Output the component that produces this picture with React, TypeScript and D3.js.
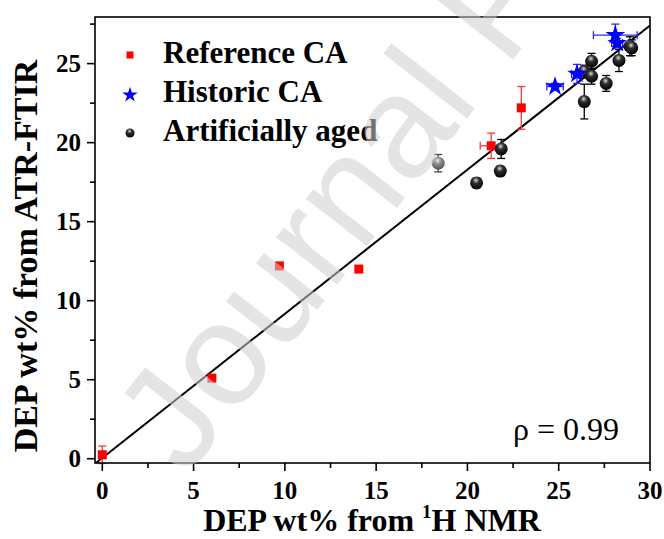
import * as d3 from "d3";

// reference CA (red squares)
const refX = [0, 6.0, 9.7, 14.05, 21.3, 22.95];
const refY = [0.25, 5.1, 12.2, 12.0, 19.8, 22.2];
const refXErr = [0, 0, 0, 0, 0.6, 0];
const refYErr = [0.55, 0, 0, 0, 0.8, 1.35];

// historic CA (blue stars)
const histX = [24.8, 26.0, 28.2, 28.1];
const histY = [23.55, 24.35, 26.3, 26.8];
const histXErr = [0.45, 0.3, 0.3, 1.2];
const histYErr = [0.2, 0.6, 0.3, 0.7];

// artificially aged (black spheres, first one grey)
const agedX = [18.4, 20.5, 21.8, 21.85, 26.4, 26.4, 26.8, 26.8, 27.6, 28.3, 28.9, 29.0];
const agedY = [18.7, 17.45, 18.2, 19.6, 22.6, 24.5, 24.2, 25.15, 23.75, 25.2, 26.1, 26.0];
const agedYErr = [0.55, 0.3, 0.3, 0.6, 1.1, 0.4, 0.5, 0.5, 0.5, 0.7, 0.6, 0.5];

const majorTicks = [0, 5, 10, 15, 20, 25, 30];
const yMajorTicks = [0, 5, 10, 15, 20, 25];
const minorTicks = [2.5, 7.5, 12.5, 17.5, 22.5, 27.5];

const fitSlope = 0.912;
const fitIntercept = 0.05;
const legendLabels = ["Reference CA", "Historic CA", "Artificially aged"];

const W = 664;
const H = 539;
const left = 95;
const right = 650;
const top = 17;
const bottom = 463;

const serif = "'Liberation Serif', 'Times New Roman', serif";

const x = d3.scaleLinear().domain([-0.4, 30]).range([left, right]);
const y = d3.scaleLinear().domain([-0.27, 27.95]).range([bottom, top]);

const starPath = d3.symbol().type(d3.symbolStar).size(120)() as string;
const starSmall = d3.symbol().type(d3.symbolStar).size(75)() as string;

const ErrBar = ({ cx, cy, xe, ye, color }: any) => {
  const cap = 4;
  const out: any[] = [];
  if (ye > 0) {
    const y1 = y(cy + ye);
    const y2 = y(cy - ye);
    const px = x(cx);
    out.push(<line key="v" x1={px} x2={px} y1={y1} y2={y2} />);
    out.push(<line key="vt" x1={px - cap} x2={px + cap} y1={y1} y2={y1} />);
    out.push(<line key="vb" x1={px - cap} x2={px + cap} y1={y2} y2={y2} />);
  }
  if (xe > 0) {
    const x1 = x(cx - xe);
    const x2 = x(cx + xe);
    const py = y(cy);
    out.push(<line key="h" x1={x1} x2={x2} y1={py} y2={py} />);
    out.push(<line key="hl" x1={x1} x2={x1} y1={py - cap} y2={py + cap} />);
    out.push(<line key="hr" x1={x2} x2={x2} y1={py - cap} y2={py + cap} />);
  }
  return (
    <g stroke={color} strokeWidth={1.3}>
      {out}
    </g>
  );
};

export default function App() {
  const x0 = -0.4;
  const x1 = 30;
  return (
    <svg
      width={W}
      height={H}
      style={{ position: "absolute", left: 0, top: 0, background: "#fff" }}
      fontFamily={serif}
    >
      <defs>
        <radialGradient id="ball" cx="45%" cy="30%" r="70%">
          <stop offset="0%" stopColor="#d8d8d8" />
          <stop offset="35%" stopColor="#303030" />
          <stop offset="100%" stopColor="#000" />
        </radialGradient>
        <radialGradient id="ballGrey" cx="45%" cy="30%" r="70%">
          <stop offset="0%" stopColor="#e8e8e8" />
          <stop offset="40%" stopColor="#8a8a8a" />
          <stop offset="100%" stopColor="#555" />
        </radialGradient>
        <clipPath id="plot">
          <rect x={left} y={top} width={right - left} height={bottom - top} />
        </clipPath>
      </defs>

      {/* fit line */}
      <line
        clipPath="url(#plot)"
        x1={x(x0)}
        y1={y(fitSlope * x0 + fitIntercept)}
        x2={x(x1)}
        y2={y(fitSlope * x1 + fitIntercept)}
        stroke="#000"
        strokeWidth={2}
      />

      {/* reference CA */}
      {refX.map((v, i) => (
        <ErrBar key={"re" + i} cx={v} cy={refY[i]} xe={refXErr[i]} ye={refYErr[i]} color="#f03c3c" />
      ))}
      {refX.map((v, i) => (
        <rect key={"r" + i} x={x(v) - 4.5} y={y(refY[i]) - 4.5} width={9} height={9} fill="#f00" />
      ))}

      {/* artificially aged */}
      {agedX.map((v, i) => (
        <ErrBar key={"ae" + i} cx={v} cy={agedY[i]} xe={0} ye={agedYErr[i]} color={i === 0 ? "#444" : "#000"} />
      ))}
      {agedX.map((v, i) => (
        <circle
          key={"a" + i}
          cx={x(v)}
          cy={y(agedY[i])}
          r={6.5}
          fill={i === 0 ? "url(#ballGrey)" : "url(#ball)"}
        />
      ))}

      {/* historic CA */}
      {histX.map((v, i) => (
        <ErrBar key={"he" + i} cx={v} cy={histY[i]} xe={histXErr[i]} ye={histYErr[i]} color="#2a2aff" />
      ))}
      {histX.map((v, i) => (
        <path key={"h" + i} d={starPath} transform={`translate(${x(v)},${y(histY[i])})`} fill="#00f" />
      ))}

      {/* frame */}
      <rect x={left} y={top} width={right - left} height={bottom - top} fill="none" stroke="#000" strokeWidth={1.6} />

      {/* ticks */}
      <g stroke="#000" strokeWidth={1.6}>
        {majorTicks.map((t) => (
          <line key={"xt" + t} x1={x(t)} x2={x(t)} y1={bottom} y2={bottom + 8} />
        ))}
        {minorTicks.map((t) => (
          <line key={"xm" + t} x1={x(t)} x2={x(t)} y1={bottom} y2={bottom + 5} />
        ))}
        {yMajorTicks.map((t) => (
          <line key={"yt" + t} x1={left - 8} x2={left} y1={y(t)} y2={y(t)} />
        ))}
        {minorTicks.map((t) => (
          <line key={"ym" + t} x1={left - 5} x2={left} y1={y(t)} y2={y(t)} />
        ))}
      </g>
      <g fontSize={25} fontWeight="bold" fill="#000">
        {majorTicks.map((t) => (
          <text key={"xl" + t} x={x(t)} y={499} textAnchor="middle">
            {t}
          </text>
        ))}
        {yMajorTicks.map((t) => (
          <text key={"yl" + t} x={81} y={y(t)} dy="0.34em" textAnchor="end">
            {t}
          </text>
        ))}
      </g>

      {/* axis titles */}
      <text x={372} y={531} textAnchor="middle" fontSize={32} fontWeight="bold">
        DEP wt% from{" "}
        <tspan fontSize={19} dy={-13}>
          1
        </tspan>
        <tspan dy={13}>H NMR</tspan>
      </text>
      <text
        transform="translate(37,256) rotate(-90)"
        textAnchor="middle"
        fontSize={34}
        fontWeight="bold"
      >
        DEP wt% from ATR-FTIR
      </text>

      {/* legend */}
      <rect x={126.5} y={51.5} width={7} height={7} fill="#f00" />
      <path d={starSmall} transform="translate(130,95)" fill="#00f" />
      <circle cx={130} cy={133} r={4.5} fill="url(#ball)" />
      <g fontSize={31} fontWeight="bold">
        {legendLabels.map((l, i) => (
          <text key={l} x={163} y={63 + i * 39}>
            {l}
          </text>
        ))}
      </g>

      <text x={513} y={440} fontSize={32}>
        ρ = 0.99
      </text>

      {/* watermark */}
      <text
        transform="translate(186,478) rotate(-52)"
        fontFamily="'Liberation Sans', Arial, sans-serif"
        fontSize={146}
        fill="rgb(205,205,205)"
        fillOpacity={0.55}
      >
        Journal Pre-proof
      </text>
    </svg>
  );
}
